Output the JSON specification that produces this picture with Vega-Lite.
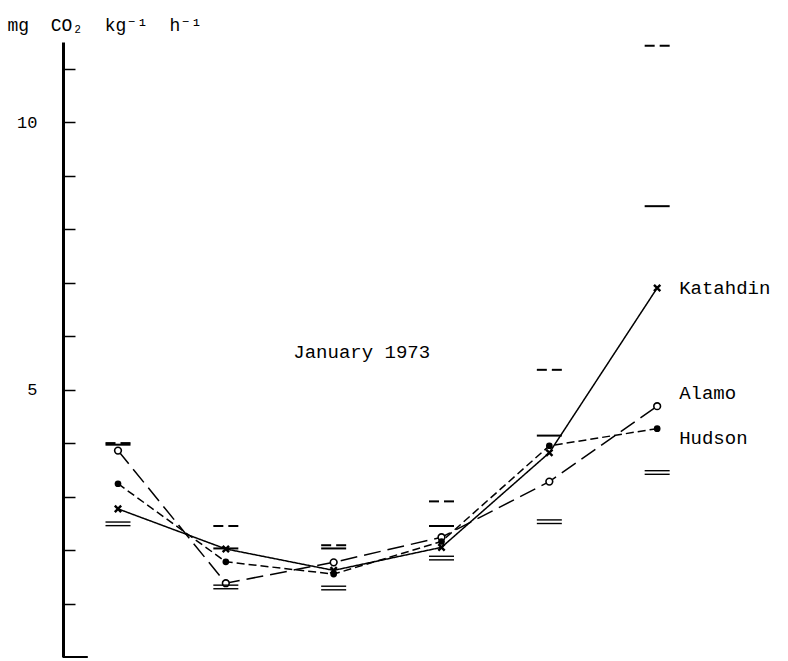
{
  "$schema": "https://vega.github.io/schema/vega-lite/v6.json",
  "autosize": "none",
  "width": 702,
  "height": 615,
  "padding": {"left": 63, "top": 42, "right": 23, "bottom": 4},
  "background": "white",
  "config": {"view": {"stroke": null}, "font": "Liberation Mono"},
  "datasets": {
    "points": [
      {"variety": "Katahdin", "month": 1, "rate": 2.77},
      {"variety": "Katahdin", "month": 2, "rate": 2.02},
      {"variety": "Katahdin", "month": 3, "rate": 1.62},
      {"variety": "Katahdin", "month": 4, "rate": 2.05},
      {"variety": "Katahdin", "month": 5, "rate": 3.82},
      {"variety": "Katahdin", "month": 6, "rate": 6.90},
      {"variety": "Alamo", "month": 1, "rate": 3.86},
      {"variety": "Alamo", "month": 2, "rate": 1.38},
      {"variety": "Alamo", "month": 3, "rate": 1.77},
      {"variety": "Alamo", "month": 4, "rate": 2.24},
      {"variety": "Alamo", "month": 5, "rate": 3.28},
      {"variety": "Alamo", "month": 6, "rate": 4.69},
      {"variety": "Hudson", "month": 1, "rate": 3.24},
      {"variety": "Hudson", "month": 2, "rate": 1.78},
      {"variety": "Hudson", "month": 3, "rate": 1.55},
      {"variety": "Hudson", "month": 4, "rate": 2.16},
      {"variety": "Hudson", "month": 5, "rate": 3.95},
      {"variety": "Hudson", "month": 6, "rate": 4.27}
    ],
    "bars": [
      {"variety": "Hudson", "month": 1, "value": 4.0},
      {"variety": "Katahdin", "month": 1, "value": 3.97},
      {"variety": "Alamo", "month": 1, "value": 2.49},
      {"variety": "Hudson", "month": 2, "value": 2.45},
      {"variety": "Katahdin", "month": 2, "value": 2.03},
      {"variety": "Alamo", "month": 2, "value": 1.31},
      {"variety": "Hudson", "month": 3, "value": 2.09},
      {"variety": "Katahdin", "month": 3, "value": 2.03},
      {"variety": "Alamo", "month": 3, "value": 1.29},
      {"variety": "Hudson", "month": 4, "value": 2.91},
      {"variety": "Katahdin", "month": 4, "value": 2.45},
      {"variety": "Alamo", "month": 4, "value": 1.85},
      {"variety": "Hudson", "month": 5, "value": 5.37},
      {"variety": "Katahdin", "month": 5, "value": 4.14},
      {"variety": "Alamo", "month": 5, "value": 2.53},
      {"variety": "Hudson", "month": 6, "value": 11.43},
      {"variety": "Katahdin", "month": 6, "value": 8.43},
      {"variety": "Alamo", "month": 6, "value": 3.45}
    ],
    "labels": [
      {"text": "Katahdin", "month": 6, "rate": 6.90},
      {"text": "Alamo", "month": 6, "rate": 4.94},
      {"text": "Hudson", "month": 6, "rate": 4.10}
    ],
    "notes": [
      {"text": "January 1973", "month": 3.26, "rate": 5.71}
    ]
  },
  "layer": [
    {
      "data": {"name": "points"},
      "mark": {"type": "line", "color": "black", "strokeWidth": 1.5},
      "encoding": {
        "x": {"field": "month", "type": "quantitative", "scale": {"domain": [0.49, 7.0], "nice": false, "zero": false}, "axis": null},
        "y": {"field": "rate", "type": "quantitative",
          "scale": {"domain": [0, 11.5], "nice": false},
          "axis": {
            "values": [1, 2, 3, 4, 5, 6, 7, 8, 9, 10, 11],
            "labelExpr": "datum.value % 5 == 0 ? datum.label : ''",
            "grid": false,
            "domainColor": "black", "domainWidth": 3,
            "tickColor": "black", "tickWidth": 1.5, "tickSize": -12,
            "labelPadding": 38,
            "labelFont": "Liberation Mono", "labelFontSize": 17, "labelColor": "black",
            "title": "mg\u00a0\u00a0CO₂\u00a0\u00a0kg⁻¹\u00a0\u00a0h⁻¹",
            "titleFont": "Liberation Mono, DejaVu Sans Mono", "titleFontSize": 18, "titleFontWeight": "normal",
            "titleColor": "black", "titleAngle": 0, "titleAlign": "left", "titleBaseline": "alphabetic",
            "titleX": -56, "titleY": -12
          }
        },
        "detail": {"field": "variety"},
        "strokeDash": {"field": "variety", "type": "nominal",
          "scale": {"domain": ["Katahdin", "Hudson", "Alamo"], "range": [[1, 0], [8, 4], [17, 7]]},
          "legend": null}
      }
    },
    {
      "data": {"name": "points"},
      "transform": [{"filter": "datum.variety == 'Katahdin'"}],
      "mark": {"type": "point", "shape": "M-1,-1L1,1M-1,1L1,-1", "size": 40, "stroke": "black", "strokeWidth": 2.4, "filled": false, "opacity": 1},
      "encoding": {"x": {"field": "month", "type": "quantitative"}, "y": {"field": "rate", "type": "quantitative"}}
    },
    {
      "data": {"name": "points"},
      "transform": [{"filter": "datum.variety == 'Alamo'"}],
      "mark": {"type": "point", "shape": "circle", "size": 45, "stroke": "black", "fill": "white", "strokeWidth": 1.6, "filled": true, "opacity": 1},
      "encoding": {"x": {"field": "month", "type": "quantitative"}, "y": {"field": "rate", "type": "quantitative"}}
    },
    {
      "data": {"name": "points"},
      "transform": [{"filter": "datum.variety == 'Hudson'"}],
      "mark": {"type": "point", "shape": "circle", "size": 45, "color": "black", "filled": true, "opacity": 1},
      "encoding": {"x": {"field": "month", "type": "quantitative"}, "y": {"field": "rate", "type": "quantitative"}}
    },
    {
      "data": {"name": "bars"},
      "transform": [{"filter": "datum.variety == 'Katahdin'"}],
      "mark": {"type": "tick", "orient": "horizontal", "size": 25, "thickness": 2, "color": "black", "opacity": 1},
      "encoding": {"x": {"field": "month", "type": "quantitative"}, "y": {"field": "value", "type": "quantitative"}}
    },
    {
      "data": {"name": "bars"},
      "transform": [{"filter": "datum.variety == 'Hudson'"}],
      "mark": {"type": "tick", "orient": "horizontal", "size": 10, "thickness": 2, "color": "black", "opacity": 1, "xOffset": -7.5},
      "encoding": {"x": {"field": "month", "type": "quantitative"}, "y": {"field": "value", "type": "quantitative"}}
    },
    {
      "data": {"name": "bars"},
      "transform": [{"filter": "datum.variety == 'Hudson'"}],
      "mark": {"type": "tick", "orient": "horizontal", "size": 10, "thickness": 2, "color": "black", "opacity": 1, "xOffset": 7.5},
      "encoding": {"x": {"field": "month", "type": "quantitative"}, "y": {"field": "value", "type": "quantitative"}}
    },
    {
      "data": {"name": "bars"},
      "transform": [{"filter": "datum.variety == 'Alamo'"}],
      "mark": {"type": "tick", "orient": "horizontal", "size": 25, "thickness": 1.4, "color": "black", "opacity": 1, "yOffset": -1.8},
      "encoding": {"x": {"field": "month", "type": "quantitative"}, "y": {"field": "value", "type": "quantitative"}}
    },
    {
      "data": {"name": "bars"},
      "transform": [{"filter": "datum.variety == 'Alamo'"}],
      "mark": {"type": "tick", "orient": "horizontal", "size": 25, "thickness": 1.4, "color": "black", "opacity": 1, "yOffset": 1.8},
      "encoding": {"x": {"field": "month", "type": "quantitative"}, "y": {"field": "value", "type": "quantitative"}}
    },
    {
      "data": {"name": "labels"},
      "mark": {"type": "text", "align": "left", "baseline": "middle", "dx": 22, "font": "Liberation Mono", "fontSize": 19, "color": "black"},
      "encoding": {"x": {"field": "month", "type": "quantitative"}, "y": {"field": "rate", "type": "quantitative"}, "text": {"field": "text"}}
    },
    {
      "data": {"name": "notes"},
      "mark": {"type": "text", "align": "center", "baseline": "middle", "font": "Liberation Mono", "fontSize": 19, "color": "black"},
      "encoding": {"x": {"field": "month", "type": "quantitative"}, "y": {"field": "rate", "type": "quantitative"}, "text": {"field": "text"}}
    },
    {
      "data": {"values": [{}]},
      "mark": {"type": "rule", "color": "black", "strokeWidth": 2},
      "encoding": {"x": {"datum": 0.49, "type": "quantitative"}, "x2": {"datum": 0.72}, "y": {"datum": 0, "type": "quantitative"}}
    }
  ]
}
